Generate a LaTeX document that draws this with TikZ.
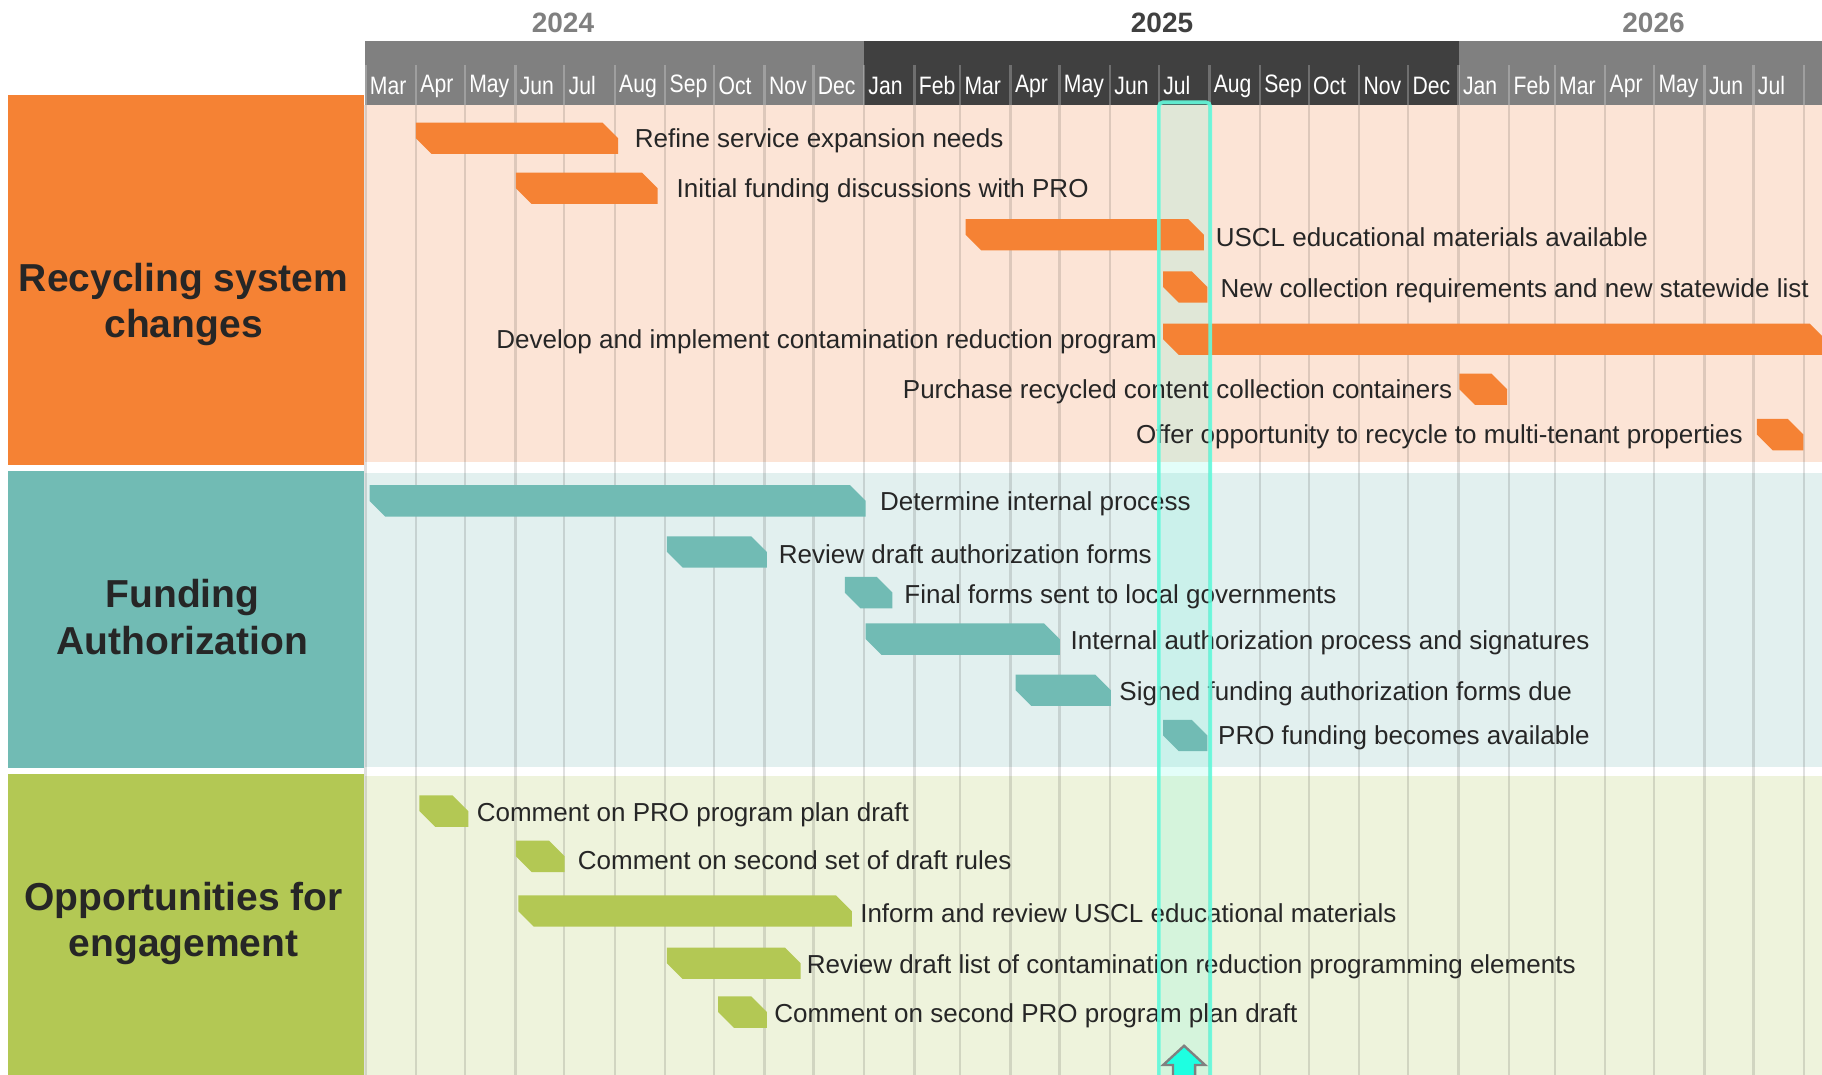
\documentclass[tikz,border=0pt]{standalone}
\usepackage{fontspec}
\setmainfont{Liberation Sans}
\newfontfamily\narrowfont[FakeStretch=0.84]{Liberation Sans}
\usepackage{tikz}

\definecolor{recyc}{RGB}{245,130,52}
\definecolor{recycbg}{RGB}{252,228,214}
\definecolor{fund}{RGB}{113,187,180}
\definecolor{fundbg}{RGB}{226,240,239}
\definecolor{engage}{RGB}{179,200,84}
\definecolor{engagebg}{RGB}{238,243,220}
\definecolor{hilite}{RGB}{100,250,220}
\definecolor{headgrey}{RGB}{128,128,128}
\definecolor{headdark}{RGB}{64,64,64}
\definecolor{txt}{RGB}{38,38,38}

\tikzstyle{task}=[anchor=west, inner sep=0pt, yshift=-1.3pt, text=txt, font=\fontsize{13}{15.5}\selectfont]
\tikzstyle{taskleft}=[task, anchor=east]
\tikzstyle{panel}=[align=center, text=txt, font=\bfseries\fontsize{19.5}{23.2}\selectfont]
\tikzstyle{month}=[anchor=west, inner sep=0pt, text=white, font=\narrowfont\fontsize{12.6}{14}\selectfont]
\tikzstyle{year}=[inner sep=0pt, font=\bfseries\fontsize{14}{16}\selectfont]
\tikzstyle{gridline}=[draw=black, opacity=0.12, line width=1.2pt]

% bar with cut corners: style, x start, x end, y centre
\newcommand{\taskbar}[4]{\fill[#1] (#2,#4-13.5) -- (#3-13.5,#4-13.5) -- (#3,#4) -- (#3,#4+13.5) -- (#2+13.5,#4+13.5) -- (#2,#4) -- cycle;}

\begin{document}
\begin{tikzpicture}[x=0.581pt, y=-0.581pt]
  \useasboundingbox (0,0) rectangle (1568,925);

  % years and months
  \fill[headgrey] (314.5,35) rectangle (743.5,90);
  \fill[headdark] (743.5,35) rectangle (1255.2,90);
  \fill[headgrey] (1255.2,35) rectangle (1568,90);
  \node[year, text=headgrey] (y2024) at (484.5,20) {2024};
  \node[year, text=headdark] (y2025) at (1000,20) {2025};
  \node[year, text=headgrey] (y2026) at (1423,20) {2026};

  % lanes
  \fill[recyc] (7,82) rectangle (313,400);
  \fill[fund] (7,405) rectangle (313,661);
  \fill[engage] (7,666) rectangle (313,925);
  \fill[recycbg] (314.5,90) rectangle (1568,398);
  \fill[fundbg] (314.5,407) rectangle (1568,660);
  \fill[engagebg] (314.5,668) rectangle (1568,925);
  \node[panel] (recycling) at (158,262) {Recycling system\\changes};
  \node[panel] (funding) at (157,531) {Funding\\Authorization};
  \node[panel] (engagement) at (158,795) {Opportunities for\\engagement};

  \foreach \d/\m in {0/Mar,31/Apr,61/May,92/Jun,122/Jul,153/Aug,184/Sep,214/Oct,245/Nov,275/Dec,
                     306/Jan,337/Feb,365/Mar,396/Apr,426/May,457/Jun,487/Jul,518/Aug,549/Sep,579/Oct,610/Nov,640/Dec,
                     671/Jan,702/Feb,730/Mar,761/Apr,791/May,822/Jun,852/Jul,883/{}} {
    \draw[white, opacity=0.25, line width=1.2pt] (314.5+1.402*\d,56) -- (314.5+1.402*\d,90);
    \node[month] (m\d) at (318+1.402*\d,74) {\m};
    \draw[gridline] (314.5+1.402*\d,90) -- (314.5+1.402*\d,925);
  }

  % current month
  \fill[hilite, opacity=0.18] (997.3,88) rectangle (1041.5,927);

  % recycling system changes
  \taskbar{recyc}{358}{532}{119}
  \taskbar{recyc}{444}{566}{162}
  \taskbar{recyc}{831}{1036}{202}
  \taskbar{recyc}{1001}{1039}{247}
  \taskbar{recyc}{1001}{1571}{292}
  \taskbar{recyc}{1256}{1297}{335}
  \taskbar{recyc}{1512}{1552}{374}
  \node[task] (refine) at (546,119) {Refine service expansion needs};
  \node[task] (initial) at (582,162) {Initial funding discussions with PRO};
  \node[task] (uscl) at (1046,202) {USCL educational materials available};
  \node[task] (newlist) at (1050,248) {New collection requirements and new statewide list};
  \node[taskleft] (contam) at (996,292) {Develop and implement contamination reduction program};
  \node[taskleft] (contain) at (1250,335) {Purchase recycled content collection containers};
  \node[taskleft] (tenant) at (1500,374) {Offer opportunity to recycle to multi-tenant properties};

  % funding authorization
  \taskbar{fund}{318}{745}{431}
  \taskbar{fund}{574}{660}{475}
  \taskbar{fund}{727}{768}{510}
  \taskbar{fund}{745}{912}{550}
  \taskbar{fund}{874}{956}{594}
  \taskbar{fund}{1001}{1039}{633}
  \node[task] (internal) at (757,431) {Determine internal process};
  \node[task] (review) at (670,475) {Review draft authorization forms};
  \node[task] (final) at (778,511) {Final forms sent to local governments};
  \node[task] (signat) at (921,551) {Internal authorization process and signatures};
  \node[task] (signed) at (963,595) {Signed funding authorization forms due};
  \node[task] (avail) at (1048,633) {PRO funding becomes available};

  % opportunities for engagement
  \taskbar{engage}{361}{403}{698}
  \taskbar{engage}{444}{486}{737}
  \taskbar{engage}{446}{733}{784}
  \taskbar{engage}{574}{689}{829}
  \taskbar{engage}{618}{660}{871}
  \node[task] (plan) at (410,699) {Comment on PRO program plan draft};
  \node[task] (rules) at (497,738) {Comment on second set of draft rules};
  \node[task] (inform) at (740,784) {Inform and review USCL educational materials};
  \node[task] (elements) at (694,830) {Review draft list of contamination reduction programming elements};
  \node[task] (plan2) at (666,872) {Comment on second PRO program plan draft};

  \draw[hilite, opacity=0.9, line width=1.8pt, rounded corners=2] (997.3,927) -- (997.3,88) -- (1041.5,88) -- (1041.5,927);
  \draw[fill={rgb,255:red,30;green,255;blue,225}, draw=headgrey, line width=1.2pt]
    (1009.5,930) -- (1009.5,916.5) -- (1001,916.5) -- (1019,900) -- (1037,916.5) -- (1028.5,916.5) -- (1028.5,930);
\end{tikzpicture}
\end{document}
